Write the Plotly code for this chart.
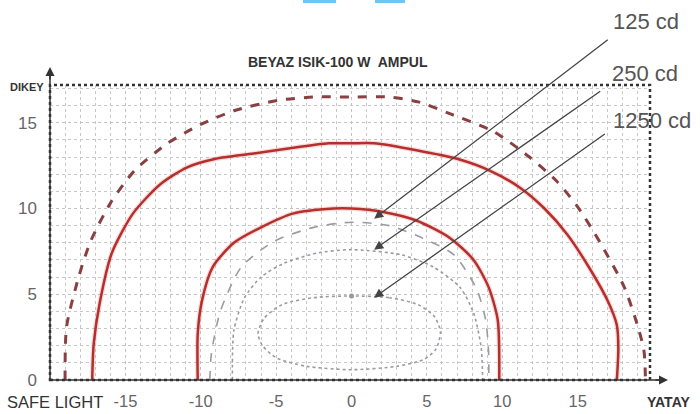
import plotly.graph_objects as go

# ---- data ----
outer_x = [-19.0, -18.9, -18.1, -17.3, -16.0, -14.4, -12.2, -10.0, -7.8, -4.9, -2.5, 0, 2.5, 4.5, 6.6, 9.4, 11.8, 13.6, 15.0, 16.5, 18.1, 19.0, 19.4, 19.5]
outer_y = [0, 3.1, 6.0, 8.1, 10.3, 12.2, 13.8, 14.9, 15.7, 16.3, 16.5, 16.5, 16.5, 16.2, 15.5, 14.5, 13.0, 11.6, 10.1, 8.0, 5.4, 3.1, 1.7, 0]

mid_x = [-17.2, -17.1, -16.7, -15.9, -14.5, -12.7, -10.9, -9.0, -6.5, -4.2, -1.5, 0, 1.5, 4.3, 7.0, 9.2, 11.2, 12.8, 14.3, 15.8, 17.0, 17.6, 17.7, 17.6]
mid_y = [0, 2.1, 4.5, 7.4, 9.7, 11.4, 12.4, 12.9, 13.2, 13.5, 13.8, 13.8, 13.8, 13.4, 12.9, 12.2, 11.2, 10.0, 8.5, 6.5, 4.6, 3.2, 1.8, 0]

inner_x = [-10.2, -10.2, -9.9, -9.2, -7.8, -6.0, -3.9, -1.2, 0, 2.1, 4.3, 6.5, 8.1, 9.1, 9.7, 9.8]
inner_y = [0, 2.7, 4.7, 6.6, 8.0, 8.9, 9.7, 10.0, 10.0, 9.8, 9.3, 8.3, 7.0, 5.4, 3.5, 0]

c125_x = [-9.4, -9.3, -8.7, -7.3, -5.1, -2.5, 0, 2.5, 4.9, 6.8, 8.3, 8.9, 9.1, 9.1]
c125_y = [0, 1.5, 4.0, 6.6, 8.1, 8.9, 9.2, 9.0, 8.2, 7.3, 5.3, 3.5, 1.5, 0]

c250_x = [-7.9, -7.8, -7.1, -6.0, -4.5, -2.3, 0, 3.3, 5.4, 7.2, 8.1, 8.6, 8.7]
c250_y = [0, 2.9, 4.8, 6.0, 6.8, 7.4, 7.6, 7.3, 6.6, 5.4, 3.9, 1.9, 0]

c1250_x = [0, 2.5, 4.4, 5.5, 5.9, 5.6, 4.8, 3.0, 0, -3.0, -5.0, -5.9, -6.2, -5.8, -4.6, -2.5, 0]
c1250_y = [4.9, 4.8, 4.4, 3.7, 2.8, 1.8, 1.2, 0.8, 0.6, 0.8, 1.3, 2.0, 2.7, 3.6, 4.4, 4.8, 4.9]

center_x = [0]
center_y = [4.9]

labels = ["125 cd", "250 cd", "1250 cd"]
arrow_head_x = [1.5, 1.5, 1.5]
arrow_head_y = [9.4, 7.6, 4.8]
arrow_tail_x = [17.1, 16.6, 16.9]
arrow_tail_y = [19.9, 16.9, 14.4]

x_ticks = [-15, -10, -5, 0, 5, 10, 15]
x_tick_text = ["-15", "-10", "-5", "0", "5", "10", "15"]
y_ticks = [0, 5, 10, 15]

FONT = "Liberation Sans"
fig = go.Figure()

RED = "#b5302d"
HALO = "rgba(235,130,130,0.28)"

for xs, ys in [(mid_x, mid_y), (inner_x, inner_y)]:
    fig.add_trace(go.Scatter(x=xs, y=ys, mode="lines", line=dict(color=HALO, width=5, shape="spline", smoothing=0.7), hoverinfo="skip"))

fig.add_trace(go.Scatter(x=outer_x, y=outer_y, mode="lines",
                         line=dict(color="#8a4040", width=3, dash="dash", shape="spline", smoothing=0.7)))
fig.add_trace(go.Scatter(x=mid_x, y=mid_y, mode="lines",
                         line=dict(color=RED, width=2.5, shape="spline", smoothing=0.7)))
fig.add_trace(go.Scatter(x=inner_x, y=inner_y, mode="lines",
                         line=dict(color=RED, width=2.5, shape="spline", smoothing=0.7)))
fig.add_trace(go.Scatter(x=c125_x, y=c125_y, mode="lines",
                         line=dict(color="#9a9aa6", width=1.6, dash="dash", shape="spline", smoothing=0.7)))
fig.add_trace(go.Scatter(x=c250_x, y=c250_y, mode="lines",
                         line=dict(color="#9a9aa6", width=1.6, dash="dot", shape="spline", smoothing=0.7)))
fig.add_trace(go.Scatter(x=c1250_x, y=c1250_y, mode="lines",
                         line=dict(color="#9a9aa6", width=1.6, dash="dot", shape="spline", smoothing=0.7)))
fig.add_trace(go.Scatter(x=center_x, y=center_y, mode="markers",
                         marker=dict(color="#999", size=5)))

annotations = []
for lab, hx, hy, tx, ty in zip(labels, arrow_head_x, arrow_head_y, arrow_tail_x, arrow_tail_y):
    annotations.append(dict(x=hx, y=hy, ax=tx, ay=ty, xref="x", yref="y", axref="x", ayref="y",
                            text="", showarrow=True, arrowhead=2, arrowsize=1.4, arrowwidth=1.3,
                            arrowcolor="#444"))

def px(p):
    return (p - 50) / 600.0

def py(q):
    return (380 - q) / 295.0

label_pos = [(646, 21), (645, 73), (652, 121)]
for lab, (lx, ly) in zip(labels, label_pos):
    annotations.append(dict(x=px(lx), y=py(ly), xref="paper", yref="paper", text=lab, showarrow=False,
                            font=dict(family=FONT, size=22, color="#555"), xanchor="center", yanchor="middle"))

annotations += [
    dict(x=px(338), y=py(62), xref="paper", yref="paper", text="<b>BEYAZ ISIK-100 W  AMPUL</b>", showarrow=False,
         font=dict(family=FONT, size=14, color="#333"), xanchor="center", yanchor="middle"),
    dict(x=px(27), y=py(87), xref="paper", yref="paper", text="<b>DIKEY</b>", showarrow=False,
         font=dict(family=FONT, size=11, color="#333"), xanchor="center", yanchor="middle"),
    dict(x=px(55), y=py(402), xref="paper", yref="paper", text="SAFE LIGHT", showarrow=False,
         font=dict(family=FONT, size=16.5, color="#333"), xanchor="center", yanchor="middle"),
    dict(x=px(668), y=py(402), xref="paper", yref="paper", text="<b>YATAY</b>", showarrow=False,
         font=dict(family=FONT, size=14, color="#333"), xanchor="center", yanchor="middle"),
    dict(x=px(668), y=0, xref="paper", yref="paper", ax=-14, ay=0, text="", showarrow=True,
         arrowhead=2, arrowsize=1.2, arrowwidth=1.5, arrowcolor="#333"),
    dict(x=0, y=py(67), xref="paper", yref="paper", ax=0, ay=14, text="", showarrow=True,
         arrowhead=2, arrowsize=1.2, arrowwidth=1.5, arrowcolor="#333"),
]

shapes = [
    dict(type="rect", xref="paper", yref="paper", x0=0, y0=0, x1=1, y1=1,
         line=dict(color="#333", width=2.5, dash="dot")),
    dict(type="line", xref="paper", yref="paper", x0=0, y0=0, x1=px(662), y1=0,
         line=dict(color="#333", width=1.5)),
    dict(type="line", xref="paper", yref="paper", x0=0, y0=0, x1=0, y1=py(72),
         line=dict(color="#333", width=1.5)),
    dict(type="rect", xref="paper", yref="paper", x0=px(303), x1=px(336), y0=py(3), y1=py(0),
         line=dict(width=0), fillcolor="#6cc8f2"),
    dict(type="rect", xref="paper", yref="paper", x0=px(375), x1=px(405), y0=py(3), y1=py(0),
         line=dict(width=0), fillcolor="#6cc8f2"),
]

fig.update_layout(
    width=700, height=414,
    margin=dict(l=50, r=50, t=85, b=34, autoexpand=False),
    paper_bgcolor="white", plot_bgcolor="white",
    showlegend=False,
    annotations=annotations,
    shapes=shapes,
    xaxis=dict(range=[-20, 19.8], tickvals=x_ticks, ticktext=x_tick_text, ticks="", showline=False, zeroline=False,
               automargin=False,
               showgrid=True, gridcolor="#c2c2c2", griddash="dot", gridwidth=1,
               minor=dict(dtick=1, showgrid=True, gridcolor="#c8c8c8", griddash="dot", gridwidth=1),
               tickfont=dict(family=FONT, size=16.5, color="#666"), ticklabelstandoff=9),
    yaxis=dict(range=[0, 17.2], tickvals=y_ticks, ticks="", showline=False, zeroline=False,
               automargin=False,
               showgrid=True, gridcolor="#c2c2c2", griddash="dot", gridwidth=1,
               minor=dict(dtick=1, showgrid=True, gridcolor="#c8c8c8", griddash="dot", gridwidth=1),
               tickfont=dict(family=FONT, size=17, color="#666"), ticklabelstandoff=12),
)

fig.write_html("out.html", config={"displayModeBar": False},
               post_script="document.body.style.margin='0';")
